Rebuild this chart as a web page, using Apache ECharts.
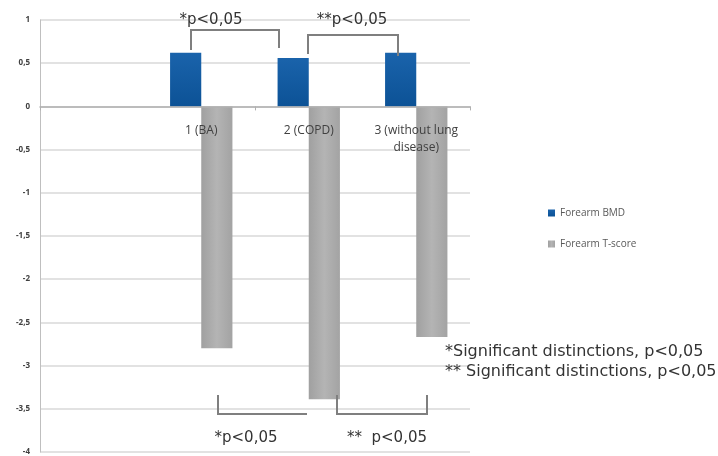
<!DOCTYPE html>
<html>
<head>
<meta charset="utf-8">
<script src="https://cdn.jsdelivr.net/npm/echarts@6/dist/echarts.min.js"></script>
<style>html,body{margin:0;padding:0;background:#fff}#c{width:718px;height:456px}</style>
</head>
<body>
<div id="c"></div>
<script>
const categories = ['', '1 (BA)', '2 (COPD)', '3 (without lung\ndisease)'];
const bmdValues = [null, 0.62, 0.56, 0.62];
const tscoreValues = [null, -2.80, -3.39, -2.67];
const yTickLabels = {'1':'1','0.5':'0,5','0':'0','-0.5':'-0,5','-1':'-1','-1.5':'-1,5','-2':'-2','-2.5':'-2,5','-3':'-3','-3.5':'-3,5','-4':'-4'};
const seriesNames = ['Forearm BMD', 'Forearm T-score'];

const chart = echarts.init(document.getElementById('c'));
const font = '"Open Sans", "Noto Sans", sans-serif';
const annFont = '"DejaVu Sans", sans-serif';
const bracketStyle = {stroke: '#7f7f7f', lineWidth: 2, fill: null};
function bracket(pts){ return {type:'polyline', shape:{points:pts}, style:bracketStyle, z:20}; }
function txt(x, y, s, align, size){ return {type:'text', x:x, y:y, style:{text:s, fill:'#333333', font:(size||15) + 'px ' + annFont, textAlign: align || 'center', textVerticalAlign:'middle'}, z:20}; }

chart.setOption({
  animation: false,
  textStyle: {fontFamily: font},
  grid: {left: 40, right: 248, top: 20, bottom: 4, containLabel: false, outerBoundsMode: 'none'},
  legend: {
    orient: 'vertical', left: 543, top: 203, itemGap: 21,
    itemWidth: 7, itemHeight: 7, icon: 'rect',
    textStyle: {fontSize: 10, color: '#595959'},
    data: seriesNames
  },
  xAxis: {
    type: 'category', data: categories, z: 5,
    axisLine: {onZero: true, lineStyle: {color: '#b0b0b0', width: 1.5}},
    axisTick: {show: true, length: 4, lineStyle: {color: '#b0b0b0'}},
    axisLabel: {show: false}
  },
  yAxis: {
    type: 'value', min: -4, max: 1, interval: 0.5,
    axisLine: {show: true, lineStyle: {color: '#bfbfbf'}},
    axisTick: {show: false},
    splitLine: {lineStyle: {color: '#d9d9d9', width: 1.5}},
    axisLabel: {fontSize: 8, color: '#404040', margin: 10, fontWeight: 'bold',
      formatter: v => yTickLabels[String(v)] !== undefined ? yTickLabels[String(v)] : String(v)}
  },
  series: [
    {name: seriesNames[0], type: 'bar', data: bmdValues, barGap: '0%', barCategoryGap: '42%',
      itemStyle: {color: new echarts.graphic.LinearGradient(0,0,0,1,[{offset:0,color:'#1a63ab'},{offset:1,color:'#0c5296'}])}},
    {name: seriesNames[1], type: 'bar', data: tscoreValues,
      itemStyle: {color: new echarts.graphic.LinearGradient(0,0,1,0,[{offset:0,color:'#a0a0a0'},{offset:0.5,color:'#b4b4b4'},{offset:1,color:'#a3a3a3'}])}}
  ]
});

// category labels drawn at the zero line, positioned through the axes
const zeroY = chart.convertToPixel({yAxisIndex: 0}, 0);
const catLabels = categories.map((c, i) => {
  const x = chart.convertToPixel({xAxisIndex: 0}, i);
  return {type: 'text', x: x, y: zeroY + 16, z: 30,
    style: {text: c, fill: '#404040', font: '12px ' + font, textAlign: 'center', textVerticalAlign: 'top', lineHeight: 17}};
});

chart.setOption({
  graphic: catLabels.concat([
    bracket([[191,50],[191,30],[279,30],[279,48]]),
    bracket([[308,54],[308,35],[398,35],[398,56]]),
    bracket([[218,395],[218,414],[307,414]]),
    bracket([[337,395],[337,414],[427,414],[427,395]]),
    txt(211, 20, '*p<0,05'),
    txt(352, 20, '**p<0,05'),
    txt(246, 438, '*p<0,05'),
    txt(387, 438, '**  p<0,05'),
    txt(445, 352, '*Significant distinctions, p<0,05', 'left', 16),
    txt(445, 372, '** Significant distinctions, p<0,05', 'left', 16)
  ])
});
</script>
</body>
</html>
